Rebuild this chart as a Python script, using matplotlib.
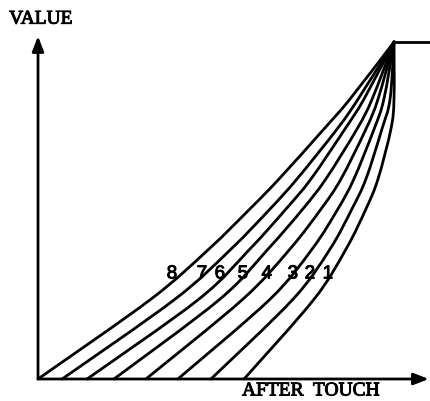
import matplotlib
matplotlib.use("Agg")
import matplotlib.pyplot as plt
import matplotlib.patheffects as pe
from matplotlib.path import Path
from matplotlib.patches import PathPatch

# After-touch response curves 1..8, MIDI-style 0..127 on both axes.
# Each curve: after-touch position at each value level, all meeting at full value.
VALUE_LEVELS = [0, 30.1, 49.0, 64.1, 75.4, 94.2, 105.5, 127]

CURVE_8 = [0.0, 40.3, 61.0, 75.6, 86.0, 102.0, 111.3, 127]
CURVE_7 = [8.6, 48.9, 68.9, 82.8, 92.4, 106.7, 114.2, 127]
CURVE_6 = [17.5, 57.4, 75.6, 88.5, 97.4, 109.5, 116.3, 127]
CURVE_5 = [27.1, 64.9, 82.1, 94.5, 102.7, 113.8, 119.2, 127]
CURVE_4 = [38.5, 73.1, 89.9, 101.0, 108.1, 117.0, 121.3, 127]
CURVE_3 = [49.9, 82.8, 97.8, 107.0, 112.7, 119.9, 123.4, 127]
CURVE_2 = [61.7, 91.0, 104.2, 112.0, 117.0, 122.7, 125.6, 127]
CURVE_1 = [73.5, 98.5, 109.9, 117.0, 121.3, 125.9, 127.0, 127]

CURVES = {"8": CURVE_8, "7": CURVE_7, "6": CURVE_6, "5": CURVE_5,
          "4": CURVE_4, "3": CURVE_3, "2": CURVE_2, "1": CURVE_1}

# where the curve numbers sit
LABEL_X = [47.8, 58.5, 64.9, 73.1, 81.6, 90.9, 97.0, 103.4]
LABEL_Y = 39.6

MAX_VAL = 127
LW = 2.0

# printed look: a thin outline fattens the glyphs a little
INK = [pe.withStroke(linewidth=0.7, foreground="black")]


def smooth_path(xs, ys):
    """Catmull-Rom through the points, drawn as cubic bezier segments."""
    pts = list(zip(xs, ys))
    ext = [pts[0]] + pts + [pts[-1]]
    verts = [pts[0]]
    codes = [Path.MOVETO]
    for i in range(1, len(ext) - 2):
        p0, p1, p2, p3 = ext[i - 1], ext[i], ext[i + 1], ext[i + 2]
        c1 = (p1[0] + (p2[0] - p0[0]) / 6, p1[1] + (p2[1] - p0[1]) / 6)
        c2 = (p2[0] - (p3[0] - p1[0]) / 6, p2[1] - (p3[1] - p1[1]) / 6)
        verts += [c1, c2, p2]
        codes += [Path.CURVE4] * 3
    return Path(verts, codes)


fig = plt.figure(figsize=(4.31, 4.02), dpi=100)
ax = fig.add_axes([0, 0, 1, 1])
ax.set_xlim(-13.56, 140.2)
ax.set_ylim(-8.29, 143.2)
ax.axis("off")

for name, xs in CURVES.items():
    ax.add_patch(PathPatch(smooth_path(xs, VALUE_LEVELS), facecolor="none",
                           edgecolor="black", lw=LW, capstyle="round"))

# flat top after the curves meet
ax.plot([MAX_VAL, 145], [MAX_VAL, MAX_VAL], color="black", lw=LW, clip_on=False)

# axes with arrow heads
arrow = dict(arrowstyle="-|>,head_length=0.9,head_width=0.35", color="black",
             lw=LW, shrinkA=0, shrinkB=0)
ax.annotate("", xy=(139.4, 0), xytext=(0, 0), arrowprops=arrow)
ax.annotate("", xy=(0, 129.2), xytext=(0, 0), arrowprops=arrow)

for (name, _), lx in zip(CURVES.items(), LABEL_X):
    ax.text(lx, LABEL_Y, name, fontsize=13.5, family="Liberation Sans",
            ha="center", va="center", path_effects=INK)

ax.text(-10.3, 135.6, "VALUE", fontsize=14, family="Liberation Serif",
        ha="left", va="center", path_effects=INK)
ax.text(97.4, -4.5, "AFTER  TOUCH", fontsize=14, family="Liberation Serif",
        ha="center", va="center", path_effects=INK)

fig.savefig("out.png", dpi=100)
